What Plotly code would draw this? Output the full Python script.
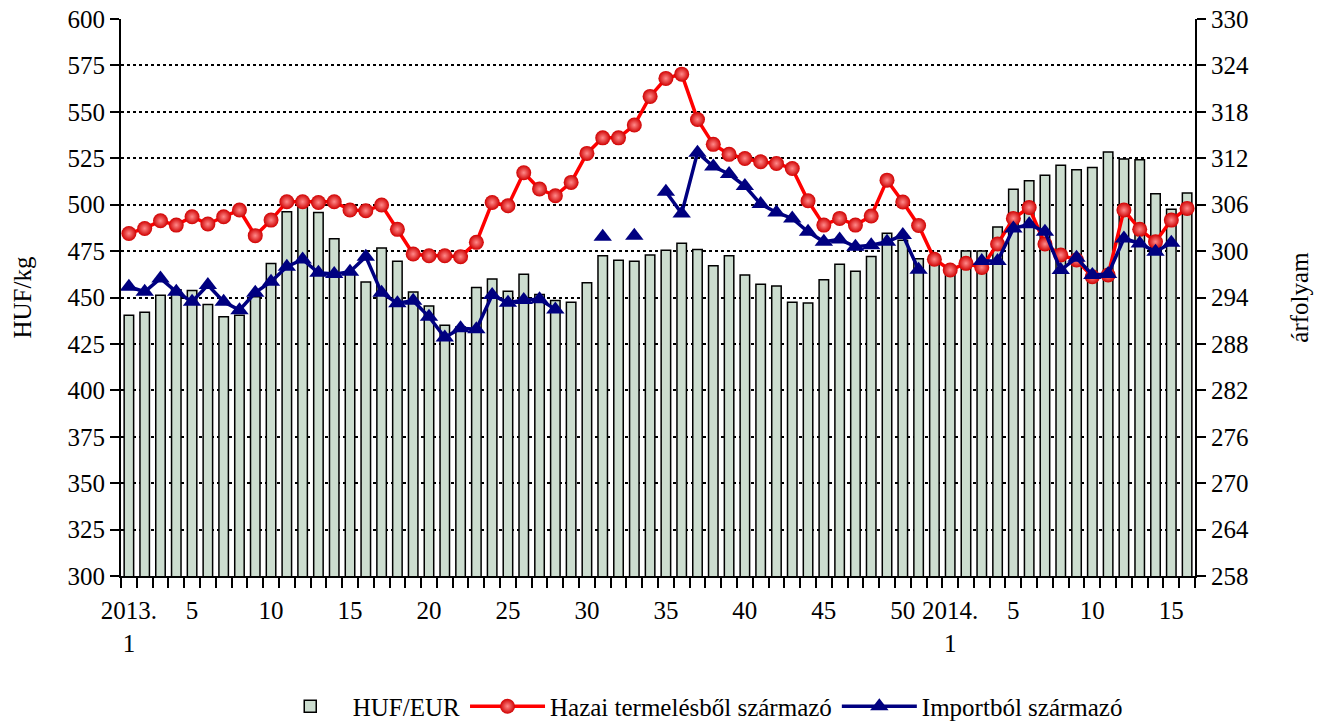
import plotly.graph_objects as go

# categories: 2013 weeks 1-52, 2014 weeks 1-16
weeks_2013 = list(range(1, 53))
weeks_2014 = list(range(1, 17))

huf_eur = [291.7, 292.1, 294.3, 295.0, 294.9, 293.1, 291.5, 291.7, 294.1, 298.4,
           305.1, 305.7, 305.0, 301.6, 297.1, 296.0, 300.4, 298.7, 294.7, 292.9,
           290.4, 290.2, 295.3, 296.4, 294.8, 297.0, 294.4, 293.6, 293.4, 295.9,
           299.4, 298.8, 298.7, 299.5, 300.1, 301.0, 300.2, 298.1, 299.4, 296.9,
           295.7, 295.5, 293.4, 293.3, 296.3, 298.3, 297.4, 299.3, 302.3, 301.4,
           299.0, 298.8,
           298.0, 300.0, 300.0, 303.1, 308.0, 309.1, 309.8, 311.1, 310.5, 310.8,
           312.8, 311.9, 311.8, 307.4, 305.4, 307.5]

hazai = [484.5, 487.2, 491.3, 489.0, 493.5, 489.6, 493.5, 497.1, 483.3, 491.7,
         501.6, 501.6, 501.2, 501.6, 497.1, 496.7, 499.8, 486.7, 473.4, 472.5,
         472.5, 472.0, 479.7, 501.2, 499.4, 517.2, 508.4, 504.8, 512.0, 527.6,
         536.0, 536.0, 542.9, 558.3, 568.0, 570.3, 545.9, 532.5, 527.1, 524.9,
         523.1, 522.2, 519.5, 502.1, 489.0, 492.6, 489.0, 493.9, 513.2, 501.4,
         488.8, 470.6,
         464.8, 468.4, 466.2, 478.8, 492.6, 498.5, 478.8, 472.9, 470.2, 461.2,
         462.1, 497.1, 486.7, 480.0, 491.7, 498.0]

importbol = [455.8, 453.1, 460.3, 453.1, 447.7, 456.7, 447.7, 443.2, 452.6, 458.5,
             466.6, 470.5, 463.3, 462.6, 463.9, 472.0, 452.5, 446.9, 448.3, 439.6,
             428.5, 433.4, 432.9, 451.3, 447.2, 448.6, 449.0, 443.6, None, None,
             482.7, None, 483.3, None, 507.0, 495.3, 528.0, 520.5, 516.5, 510.0,
             500.3, 495.8, 492.6, 485.4, 480.0, 481.3, 477.3, 478.2, 480.0, 483.6,
             465.0, None,
             None, None, 469.6, 469.6, 487.2, 489.4, 485.4, 464.8, 471.4, 462.1,
             462.6, 481.8, 479.1, 474.6, 479.5, None]

x = list(range(1, len(huf_eur) + 1))

label_weeks_2013 = [1, 5, 10, 15, 20, 25, 30, 35, 40, 45, 50]
label_weeks_2014 = [1, 5, 10, 15]
tickvals = [w for w in label_weeks_2013] + [52 + w for w in label_weeks_2014]
ticktext = ["2013.<br>1" if w == 1 else str(w) for w in label_weeks_2013] + \
           ["2014.<br>1" if w == 1 else str(w) for w in label_weeks_2014]

FONT = "Liberation Serif, Times New Roman, serif"
FS = 25

fig = go.Figure()

# bars on the primary (right-side) axis so the lines, on the overlaying axis, sit on top
fig.add_trace(go.Bar(
    x=x, y=huf_eur, name="HUF/EUR", yaxis="y",
    marker=dict(color="#CCDDCF", line=dict(color="black", width=1.5)),
    width=0.6,
))

fig.add_trace(go.Scatter(
    x=x, y=hazai, name="Hazai termelésből származó", yaxis="y2",
    mode="lines+markers",
    line=dict(color="#FF0000", width=3.5),
    marker=dict(symbol="circle", size=15, color="#D00000",
                gradient=dict(type="radial", color="#FF8A8A"),
                line=dict(width=0)),
))

fig.add_trace(go.Scatter(
    x=x, y=importbol, name="Importból származó", yaxis="y2",
    mode="lines+markers",
    line=dict(color="#000080", width=3.5),
    marker=dict(symbol="triangle-up", size=16, color="#000080", line=dict(width=0)),
    connectgaps=False,
))

fig.update_layout(
    width=1320, height=724,
    paper_bgcolor="white", plot_bgcolor="white",
    margin=dict(l=121, r=125, t=19, b=148, autoexpand=False),
    font=dict(family=FONT, size=FS, color="black"),
    bargap=0.4,
    xaxis=dict(
        range=[0.5, len(x) + 0.5],
        tickmode="array", tickvals=tickvals, ticktext=ticktext,
        ticks="outside", ticklen=11, tickcolor="rgba(0,0,0,0)",
        showgrid=False, zeroline=False,
        showline=True, linecolor="black", linewidth=2,
        tickfont=dict(family=FONT, size=FS),
        minor=dict(tick0=0.5, dtick=1, ticks="outside", ticklen=10,
                   tickwidth=2, tickcolor="black", showgrid=False),
        automargin=False, ticklabeloverflow="allow",
    ),
    yaxis=dict(
        range=[258, 330], dtick=6, tick0=258,
        side="right",
        title=dict(text="árfolyam", font=dict(family=FONT, size=FS), standoff=42),
        showline=True, linecolor="black", linewidth=2,
        ticks="outside", ticklen=9, tickwidth=2, tickcolor="black",
        tickfont=dict(family=FONT, size=FS),
        showgrid=True, gridcolor="black", gridwidth=1.5, griddash="dot",
        zeroline=False, automargin=False, ticklabeloverflow="allow",
    ),
    yaxis2=dict(
        range=[300, 600], dtick=25, tick0=300,
        overlaying="y", side="left",
        title=dict(text="HUF/kg", font=dict(family=FONT, size=FS), standoff=29),
        showline=True, linecolor="black", linewidth=2,
        ticks="outside", ticklen=9, tickwidth=2, tickcolor="black",
        tickfont=dict(family=FONT, size=FS),
        showgrid=False, zeroline=False, automargin=False, ticklabeloverflow="allow",
    ),
    legend=dict(
        orientation="h", x=0.537, xanchor="center", y=-0.193, yanchor="top",
        font=dict(family=FONT, size=FS),
        traceorder="normal",
        itemwidth=75,
    ),
)

# remove the default 8px page margin so the figure fills the window exactly
fig.write_html("out.html", config={"displayModeBar": False},
               post_script="document.body.style.margin='0';")
